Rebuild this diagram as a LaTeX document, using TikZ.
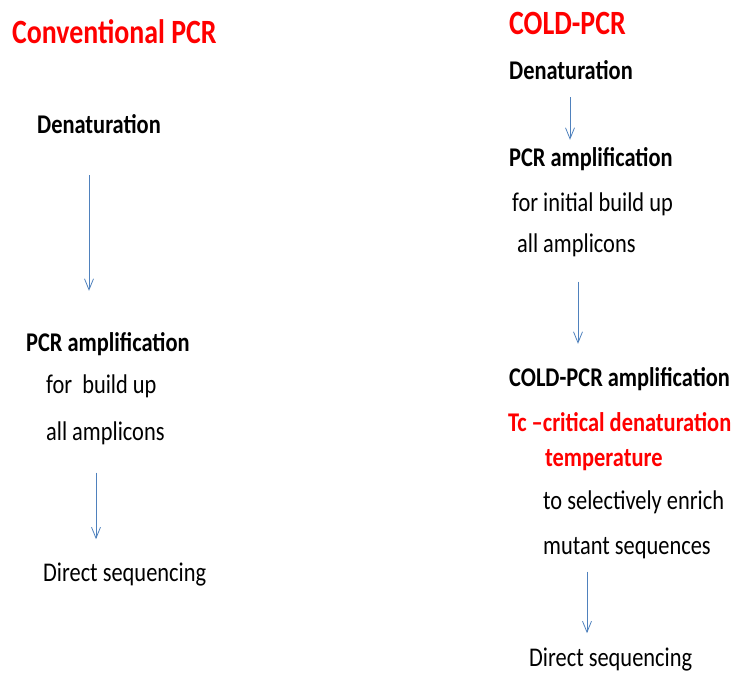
\documentclass[tikz,border=0pt]{standalone}
\usepackage{fontspec}
\setmainfont{Carlito}
\usetikzlibrary{arrows.meta}
\definecolor{pcrRed}{RGB}{255,0,0}
\definecolor{pcrBlue}{RGB}{79,129,189}
\begin{document}
\begin{tikzpicture}[x=1pt, y=1pt,
  every node/.style={inner sep=0pt, anchor=base west},
  title/.style={font=\fontsize{34}{40}\selectfont\bfseries, text=pcrRed, xscale=0.82, transform shape},
  step head/.style={font=\fontsize{27}{30}\selectfont\bfseries, xscale=0.83, transform shape},
  step body/.style={font=\fontsize{27}{30}\selectfont, xscale=0.83, transform shape},
  step warn/.style={step head, text=pcrRed},
  flow/.style={-{Straight Barb[length=11pt, width=9pt]}, line width=0.8pt, pcrBlue}]
\useasboundingbox (0,0) rectangle (736,672);
% conventional PCR
\node[title] (convT) at (12,628) {Conventional PCR};
\node[step head] (denL) at (37,538) {Denaturation};
\node[step head] (pcrL) at (26,320) {PCR amplification};
\node[step body] (pcrL1) at (46,278) {for\ \ build up};
\node[step body] (pcrL2) at (46,231) {all amplicons};
\node[step body] (seqL) at (43,90) {Direct sequencing};
\coordinate (xL1) at (89,0);
\coordinate (xL2) at (96,0);
\draw[flow, shorten <=41pt, shorten >=42pt] (denL.south -| xL1) -- (pcrL.north -| xL1);
\draw[flow, shorten <=27pt, shorten >=24pt] (pcrL2.south -| xL2) -- (seqL.north -| xL2);
% COLD-PCR
\node[title] (coldT) at (509,637) {COLD-PCR};
\node[step head] (denR) at (509,592) {Denaturation};
\node[step head] (pcrR) at (509,505) {PCR amplification};
\node[step body] (pcrR1) at (512,460) {for initial build up};
\node[step body] (pcrR2) at (517,419) {all amplicons};
\node[step head] (coldR) at (509,285) {COLD-PCR amplification};
\node[step warn] (tcR) at (508,240) {Tc –critical denaturation};
\node[step warn] (tcR2) at (545,205) {temperature};
\node[step body] (enrR) at (543,162) {to selectively enrich};
\node[step body] (enrR2) at (543,117) {mutant sequences};
\node[step body] (seqR) at (529,6) {Direct sequencing};
\coordinate (xR1) at (570,0);
\coordinate (xR2) at (578,0);
\coordinate (xR3) at (587,0);
\draw[flow, shorten <=17pt, shorten >=8pt] (denR.south -| xR1) -- (pcrR.north -| xR1);
\draw[flow, shorten <=24pt, shorten >=24pt] (pcrR2.south -| xR2) -- (coldR.north -| xR2);
\draw[flow, shorten <=12pt, shorten >=14pt] (enrR2.south -| xR3) -- (seqR.north -| xR3);
\end{tikzpicture}
\end{document}
